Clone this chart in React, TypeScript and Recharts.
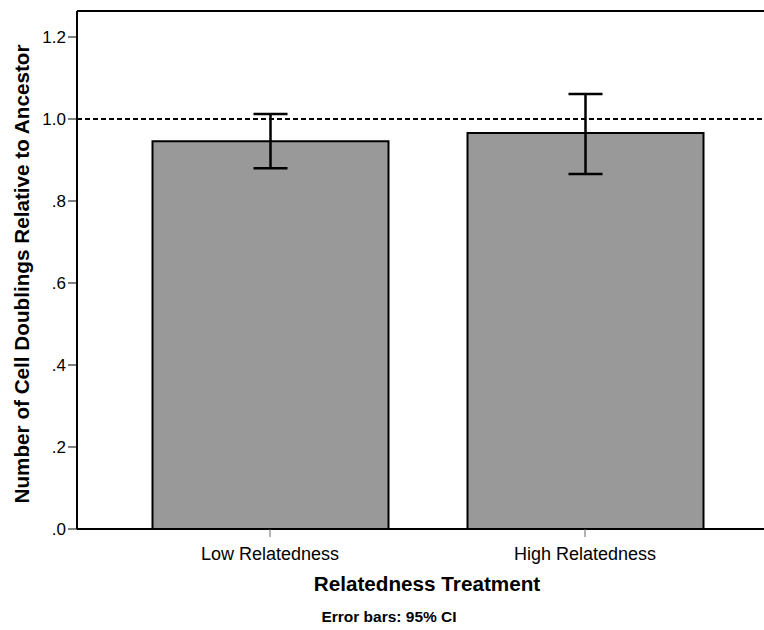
import React from 'react';
import { BarChart, Bar, XAxis, YAxis, ErrorBar, ReferenceLine } from 'recharts';

// values
const categories = ['Low Relatedness', 'High Relatedness'];
const means = [0.946, 0.966];
const ciLower = [0.880, 0.866];
const ciUpper = [1.012, 1.061];
const yTicks = [0, 0.2, 0.4, 0.6, 0.8, 1.0, 1.2];
const yMax = 1.2634;

const data = categories.map((name, i) => ({
  name,
  value: means[i],
  err: [means[i] - ciLower[i], ciUpper[i] - means[i]],
}));

const fmtY = (v: number) => (v < 1 ? '.' + Math.round(v * 10) : v.toFixed(1));

const font = '"Liberation Sans", Arial, sans-serif';

const App: React.FC = () => {
  return (
    <div
      style={{
        position: 'fixed',
        left: 0,
        top: 0,
        width: 764,
        height: 630,
        overflow: 'hidden',
        background: '#fff',
        fontFamily: font,
      }}
    >
      <BarChart
        width={764}
        height={630}
        data={data}
        margin={{ top: 11, right: 0, bottom: 0, left: 0 }}
      >
        <XAxis
          dataKey='name'
          height={101}
          padding={{ left: 35.5, right: 21.5 }}
          axisLine={{ stroke: '#000', strokeWidth: 2 }}
          tickLine={{ stroke: '#666', strokeWidth: 1 }}
          tickSize={8}
          tickMargin={10}
          tick={{ fill: '#000', fontSize: 18, fontFamily: font }}
        />
        <YAxis
          width={77}
          domain={[0, yMax]}
          ticks={yTicks}
          tickFormatter={fmtY}
          axisLine={{ stroke: '#000', strokeWidth: 2 }}
          tickLine={{ stroke: '#000', strokeWidth: 1 }}
          tickSize={9}
          tickMargin={2}
          tick={{ fill: '#000', fontSize: 17, fontFamily: font }}
        />
        <ReferenceLine y={yMax} stroke='#000' strokeWidth={2} />
        <Bar
          dataKey='value'
          fill='#999999'
          stroke='#000'
          strokeWidth={2}
          barSize={236}
          isAnimationActive={false}
        >
          <ErrorBar dataKey='err' width={17} stroke='#000' strokeWidth={2.5} />
        </Bar>
        <ReferenceLine y={1} stroke='#000' strokeWidth={2} strokeDasharray='5 3' />
      </BarChart>
      <div
        style={{
          position: 'absolute',
          left: 22,
          top: 274,
          transform: 'translate(-50%, -50%) rotate(-90deg)',
          whiteSpace: 'nowrap',
          fontSize: 20.7,
          fontWeight: 'bold',
          color: '#000',
        }}
      >
        Number of Cell Doublings Relative to Ancestor
      </div>
      <div
        style={{
          position: 'absolute',
          left: 427,
          top: 572,
          transform: 'translateX(-50%)',
          whiteSpace: 'nowrap',
          fontSize: 20.7,
          fontWeight: 'bold',
          color: '#000',
        }}
      >
        Relatedness Treatment
      </div>
      <div
        style={{
          position: 'absolute',
          left: 389,
          top: 608,
          transform: 'translateX(-50%)',
          whiteSpace: 'nowrap',
          fontSize: 15.5,
          fontWeight: 'bold',
          color: '#000',
        }}
      >
        Error bars: 95% CI
      </div>
    </div>
  );
};

export default App;
